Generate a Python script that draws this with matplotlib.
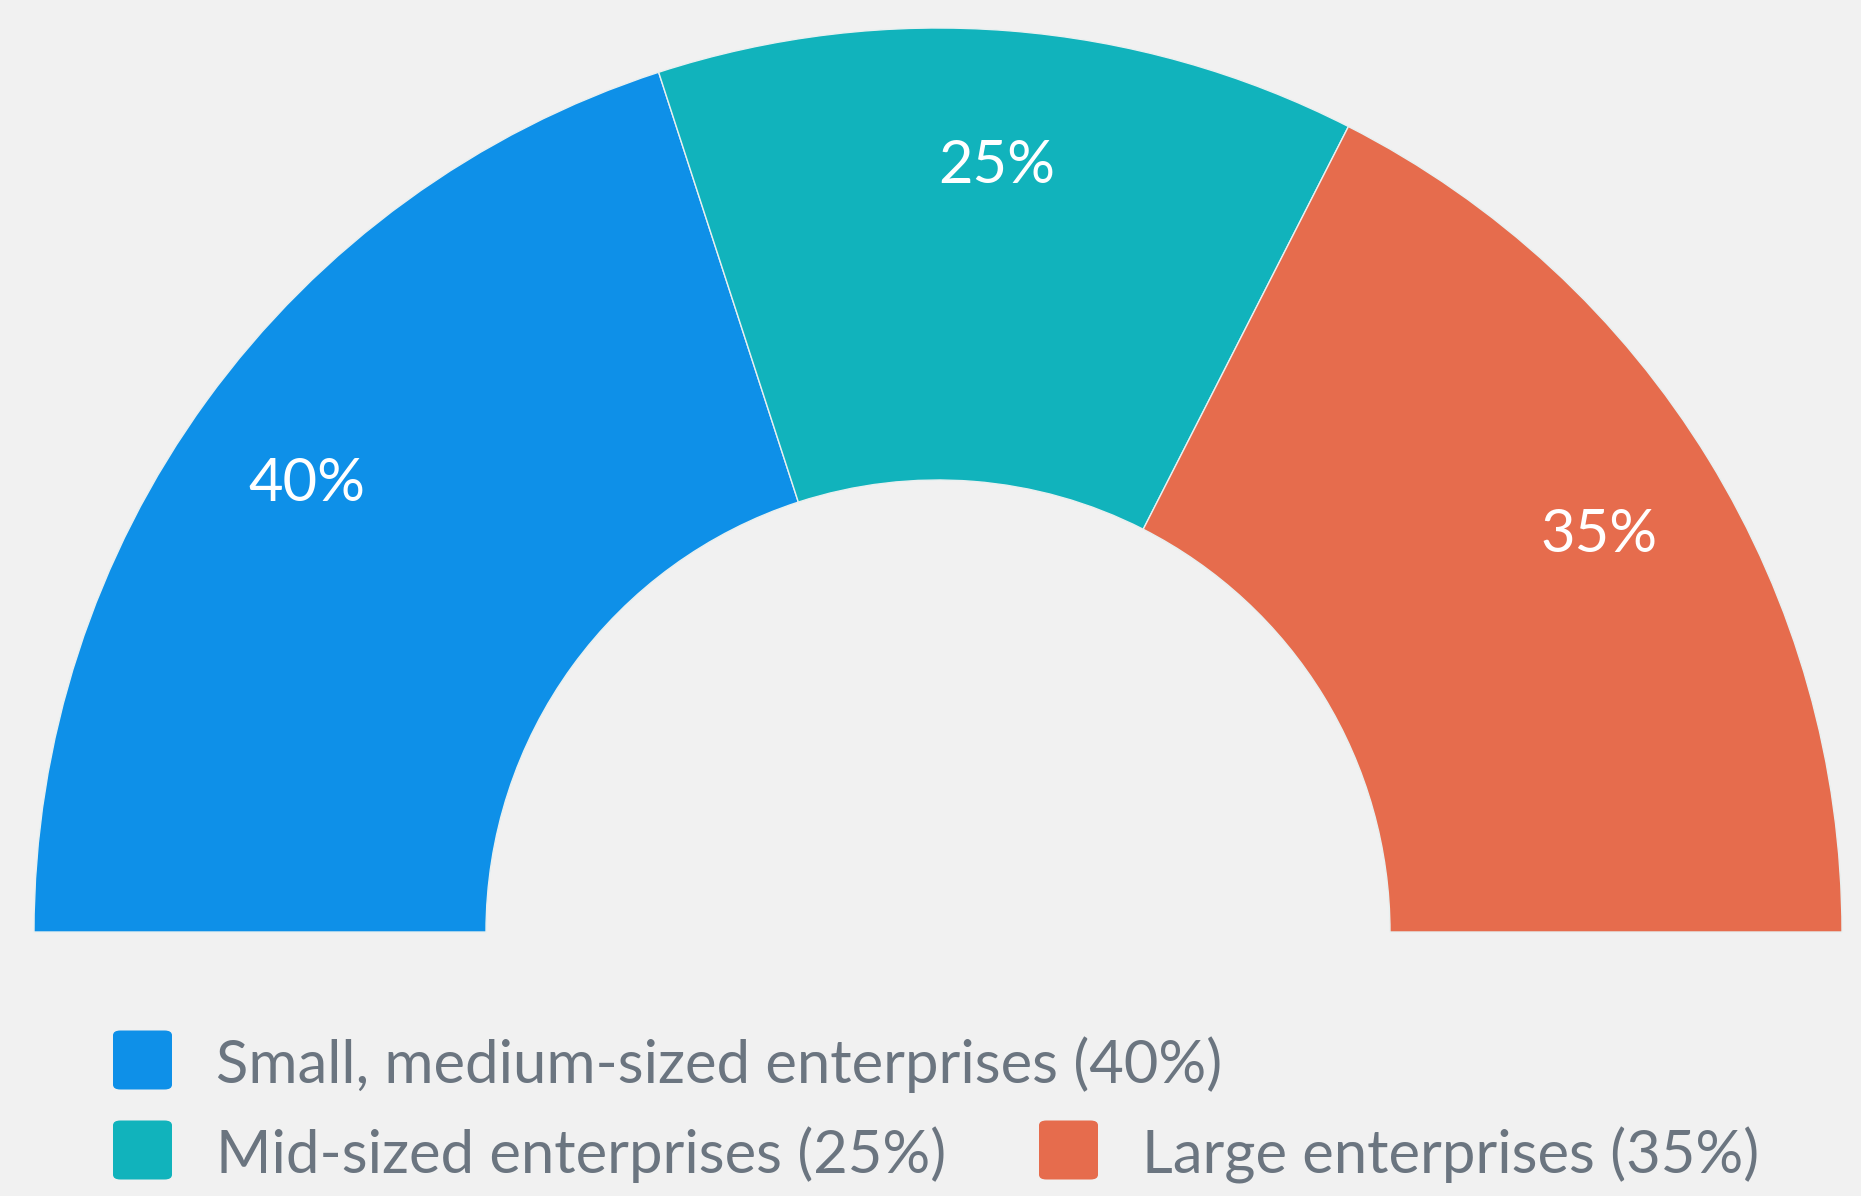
import numpy as np
import matplotlib.pyplot as plt
from matplotlib.patches import FancyBboxPatch

plt.rcParams['font.family'] = ['Lato', 'DejaVu Sans']

# data
categories = ['Small, medium-sized enterprises', 'Mid-sized enterprises', 'Large enterprises']
shares = [40, 25, 35]
colors = ['#0E90E8', '#11B3BC', '#E66C4D']
bg = '#F1F1F1'
legend_color = '#6B7580'

W, H = 1861, 1196
fig = plt.figure(figsize=(W / 100, H / 100), dpi=100, facecolor=bg)
ax = fig.add_axes([0, 0, 1, 1])
ax.set_facecolor(bg)

# half donut: pad the shares with an invisible half so the arc spans 180 degrees
vals = shares + [sum(shares)]
wedges, _ = ax.pie(vals, colors=colors + ['none'], startangle=180, counterclock=False,
                   radius=1.0, wedgeprops=dict(width=0.5, edgecolor='#e8f0f0', linewidth=1.0))
wedges[-1].set_visible(False)

# percentage labels
total = sum(vals)
start = 180.0
for v in shares:
    span = 360.0 * v / total
    mid = np.deg2rad(start - span / 2)
    ax.text(0.86 * np.cos(mid) - 0.002, 0.86 * np.sin(mid) - 0.01, f'{v}%', color='white',
            fontsize=43, ha='center', va='center')
    start -= span

# map pie to pixel layout: centre at (938, 932) px from top-left, radius 904 px
cx, cy, R = 938, 932, 904
ax.set_xlim(-cx / R, (W - cx) / R)
ax.set_ylim(-(H - cy) / R, cy / R)
ax.set_aspect('equal', adjustable='datalim')
ax.axis('off')

# legend, laid out as in the reference (flow-wrapped)
legend_pos = [(113, 1060), (113, 1150), (1039, 1150)]
sq = 59
for (lx, ly), name, v, c in zip(legend_pos, categories, shares, colors):
    box = FancyBboxPatch((lx / W, 1 - (ly + sq / 2) / H), sq / W, sq / H,
                         boxstyle='round,pad=0,rounding_size=0.004',
                         transform=fig.transFigure, facecolor=c, edgecolor='none')
    fig.patches.append(box)
    fig.text((lx + 103) / W, 1 - (ly + 5) / H, f'{name} ({v}%)', color=legend_color,
             fontsize=43, ha='left', va='center')

fig.savefig('out.png', dpi=100, facecolor=bg)
